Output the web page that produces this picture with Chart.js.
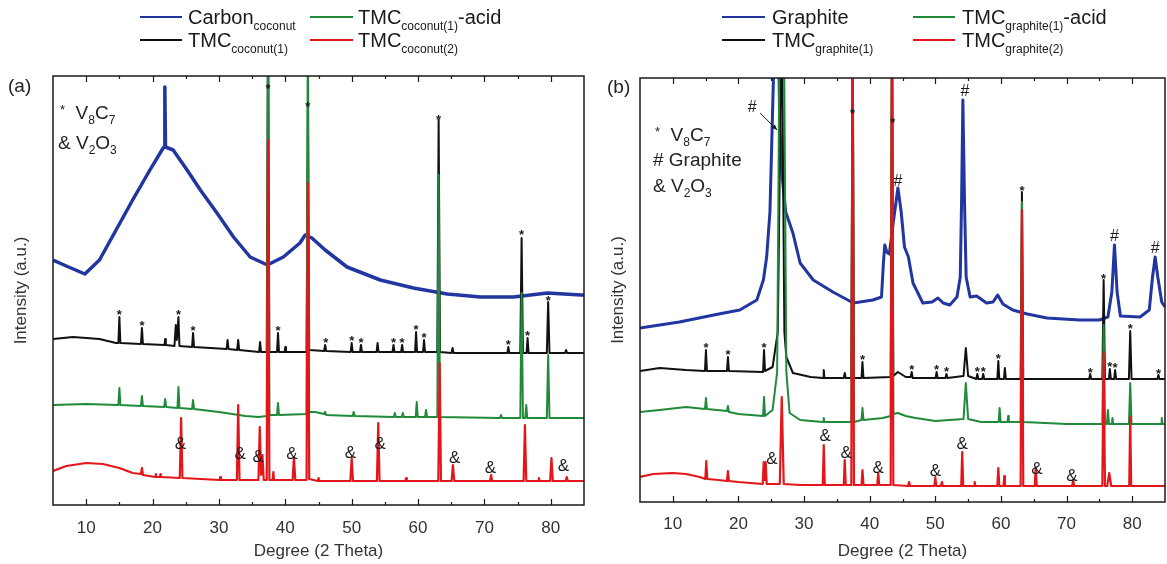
<!DOCTYPE html>
<html><head><meta charset="utf-8">
<script src="https://cdn.jsdelivr.net/npm/chart.js@4.4.0/dist/chart.umd.min.js"></script>
<style>
body{margin:0;background:#fff;width:1167px;height:564px;overflow:hidden;position:relative;font-family:"Liberation Sans",Arial,sans-serif;color:#1a1a1a}
canvas{position:absolute;top:0}
#ca{left:0}
#cb{left:590px}
.t{position:absolute;white-space:nowrap;font-size:20px;line-height:20px}
.t sub{font-size:12px;vertical-align:-6px;line-height:0}
.ln{position:absolute;height:0;border-top:2px solid}
.k{position:absolute;white-space:nowrap;font-size:19px;line-height:19px;color:#222}
.k sub{font-size:12px;vertical-align:-5px;line-height:0}
.st{font-size:13px;vertical-align:5px}
</style></head>
<body>
<canvas id="ca" width="590" height="564"></canvas>
<canvas id="cb" width="577" height="564"></canvas>

<!-- legends -->
<div class="ln" style="left:140px;top:16px;width:42px;border-color:#2236a0"></div>
<div class="t" style="left:188px;top:7px">Carbon<sub>coconut</sub></div>
<div class="ln" style="left:310px;top:16px;width:43px;border-color:#1f8a3a"></div>
<div class="t" style="left:358px;top:7px">TMC<sub>coconut(1)</sub>-acid</div>
<div class="ln" style="left:140px;top:39px;width:42px;border-color:#111"></div>
<div class="t" style="left:188px;top:30px">TMC<sub>coconut(1)</sub></div>
<div class="ln" style="left:310px;top:39px;width:43px;border-color:#e3161c"></div>
<div class="t" style="left:358px;top:30px">TMC<sub>coconut(2)</sub></div>

<div class="ln" style="left:722px;top:16px;width:43px;border-color:#2236a0"></div>
<div class="t" style="left:772px;top:7px">Graphite</div>
<div class="ln" style="left:913px;top:16px;width:42px;border-color:#1f8a3a"></div>
<div class="t" style="left:962px;top:7px">TMC<sub>graphite(1)</sub>-acid</div>
<div class="ln" style="left:722px;top:39px;width:43px;border-color:#111"></div>
<div class="t" style="left:772px;top:30px">TMC<sub>graphite(1)</sub></div>
<div class="ln" style="left:913px;top:39px;width:42px;border-color:#e3161c"></div>
<div class="t" style="left:962px;top:30px">TMC<sub>graphite(2)</sub></div>

<!-- panel labels and keys -->
<div class="k" style="left:8px;top:76px">(a)</div>
<div class="k" style="left:607px;top:77px">(b)</div>
<div class="k" style="left:60px;top:100px"><span class="st">*</span>&nbsp; V<sub>8</sub>C<sub>7</sub></div>
<div class="k" style="left:58px;top:133px">&amp; V<sub>2</sub>O<sub>3</sub></div>
<div class="k" style="left:655px;top:122px"><span class="st">*</span>&nbsp; V<sub>8</sub>C<sub>7</sub></div>
<div class="k" style="left:653px;top:150px"># Graphite</div>
<div class="k" style="left:653px;top:176px">&amp; V<sub>2</sub>O<sub>3</sub></div>

<script>
// ---------- axis ticks ----------
const X_TICKS = [10, 20, 30, 40, 50, 60, 70, 80];
const X_MINOR = [15, 25, 35, 45, 55, 65, 75];

// ---------- panel (a): coconut series, [2theta, intensity a.u.] ----------
const carbonCoconut = [[5,245],[7,239],[9.8,231],[12,245],[14.5,275],[17,305],[19.6,335],[21.6,357],[21.75,358],[21.85,418],[21.95,358],[23.1,355],[25.2,335],[27.2,315],[29.7,292],[32.2,268],[34.7,248],[37.3,240],[39.7,248],[42.2,262],[43,270],[44,267],[46,255],[49.3,238],[54.3,225],[59.3,217],[64.4,211],[69.4,208],[74.4,208],[79.5,212],[84.5,210],[85,210]];
const tmcCoconut1 = [[5,166],[8,168],[12,166],[14.5,162],[14.85,162],[15,188],[15.15,162],[18.25,161],[18.4,177],[18.55,161],[21.8,160],[21.9,166],[22.0,160],[23.3,159],[23.5,180],[23.65,165],[23.9,188],[24.05,159],[25.95,158],[26.1,172],[26.25,158],[31.15,156],[31.3,165],[31.45,156],[32.75,155],[32.9,165],[33.05,155],[36.05,153],[36.2,163],[36.35,153],[37.2,153],[37.4,500],[37.6,153],[38.75,153],[38.9,172],[39.05,153],[39.9,153],[40.0,158],[40.1,153],[43.2,153],[43.4,400],[43.6,155],[45.85,154],[46,160],[46.15,154],[49.85,153],[50.0,162],[50.15,153],[51.25,153],[51.4,160],[51.55,153],[53.75,153],[53.9,162],[54.05,153],[56.15,153],[56.3,160],[56.45,153],[57.45,153],[57.6,160],[57.75,153],[59.55,153],[59.7,173],[59.85,153],[60.75,153],[60.9,165],[61.05,153],[62.9,153],[63.1,385],[63.3,153],[65.05,152],[65.2,157],[65.35,152],[73.45,152],[73.6,158],[73.75,152],[75.4,152],[75.6,267],[75.8,152],[76.35,152],[76.5,167],[76.65,152],[79.4,152],[79.6,203],[79.8,152],[82.15,152],[82.3,155],[82.45,152],[85,152]];
const tmcCoconut1Acid = [[5,100],[10,101],[14.85,100],[15,117],[15.15,100],[18.25,99],[18.4,109],[18.55,99],[21.75,98],[21.9,106],[22.05,98],[23.75,97],[23.9,118],[24.05,97],[25.95,96],[26.1,105],[26.25,96],[30,93],[34,89],[36,88],[37.2,89],[37.4,500],[37.6,90],[38.75,90],[38.9,102],[39.05,90],[43.2,91],[43.4,500],[43.6,93],[44.5,93],[45.85,91],[46,93],[46.15,90],[50.15,89],[50.3,93],[50.45,89],[56.35,88],[56.5,92],[56.65,88],[57.55,88],[57.7,92],[57.85,88],[59.65,88],[59.8,103],[59.95,88],[61.05,88],[61.2,95],[61.35,88],[62.9,88],[63.1,330],[63.3,88],[72.35,87],[72.5,90],[72.65,87],[75.4,87],[75.6,212],[75.8,87],[76.15,87],[76.3,100],[76.45,87],[79.4,87],[79.6,150],[79.8,87],[85,87]];
const tmcCoconut2 = [[5,34],[7,39],[10,42],[12.5,41],[15,37],[17,32],[18.25,31],[18.4,37],[18.55,30],[20.4,28],[20.5,31],[20.6,28],[21.1,28],[21.2,31],[21.3,28],[24.1,27],[24.3,87],[24.5,27],[30.1,25],[30.2,28],[30.3,25],[32.7,25],[32.9,100],[33.1,25],[35.95,25],[36.15,78],[36.35,30],[36.55,50],[36.75,25],[37.2,25],[37.4,365],[37.6,25],[38.1,25],[38.2,33],[38.3,25],[41.1,25],[41.3,48],[41.5,25],[43.2,25],[43.4,322],[43.6,26],[44.9,24],[45,27],[45.1,24],[49.8,24],[50,47],[50.2,24],[53.8,24],[54,82],[54.2,24],[58.1,24],[58.2,27],[58.3,24],[63.05,24],[63.25,142],[63.45,24],[65.05,24],[65.25,40],[65.45,24],[70.85,24],[71,30],[71.15,24],[75.9,24],[76.1,80],[76.3,24],[78.1,24],[78.2,27],[78.3,24],[79.9,24],[80.1,47],[80.3,24],[82.25,24],[82.4,28],[82.55,24],[85,24]];

const starsA = [[15,193],[18.4,182],[23.9,193],[26.1,177],[38.9,177],[37.4,419],[43.4,401],[46.1,165],[50.0,167],[51.4,165],[56.3,165],[57.6,165],[59.7,178],[60.9,170],[63.1,388],[73.6,163],[75.6,273],[76.5,172],[79.6,207]];
const ampsA = [[24.2,62],[33.2,52],[35.9,49],[41.0,52],[49.8,53],[54.3,62],[65.5,48],[70.9,38],[81.9,40]];

// ---------- panel (b): graphite series ----------
const graphite = [[5,174],[8,177],[11,180],[14,184],[17,188],[20.2,192],[22.8,202],[23.8,222],[24.3,245],[24.8,290],[25.1,365],[25.4,440],[25.6,500],[26.0,500],[26.3,380],[26.6,330],[27.2,290],[28.3,269],[29.4,239],[31.4,222],[34.4,210],[37.5,199],[40.5,202],[41.8,205],[42.1,240],[42.3,257],[42.6,250],[43.0,248],[43.6,280],[44.3,314],[44.8,290],[45.3,255],[45.9,245],[46.6,219],[48.1,199],[49.5,200],[50.4,204],[51.2,199],[52.2,197],[53.3,205],[53.8,225],[54.0,300],[54.2,402],[54.45,300],[54.7,225],[55.3,205],[56.3,206],[57.8,199],[58.8,200],[59.5,207],[60.3,198],[61.8,192],[64,188],[67,184],[72,182],[75,182],[76.3,185],[76.9,210],[77.3,257],[77.7,210],[78.2,186],[81.2,185],[82.6,192],[83.1,225],[83.5,245],[83.9,225],[84.5,200],[85,195]];
const tmcGraphite1 = [[5,131],[8,134],[12,132],[14.9,131],[15.05,152],[15.2,131],[18.25,131],[18.4,145],[18.55,131],[23.75,130],[23.9,152],[24.05,131],[25.2,135],[26.0,170],[26.6,500],[27.0,170],[27.3,145],[28.3,129],[31,125],[32.9,124],[33,132],[33.1,124],[36.05,124],[36.2,129],[36.35,124],[37.2,124],[37.4,500],[37.6,124],[38.75,124],[38.9,140],[39.05,124],[43.2,125],[43.4,500],[43.6,126],[44.3,130],[45.5,125],[46.25,125],[46.4,130],[46.55,124],[50.05,124],[50.2,130],[50.35,124],[51.55,124],[51.7,128],[51.85,124],[54.3,126],[54.65,154],[55.0,126],[56.25,123],[56.4,128],[56.55,123],[57.15,123],[57.3,128],[57.45,123],[59.45,123],[59.6,141],[59.75,123],[60.45,123],[60.6,134],[60.75,123],[63.0,123],[63.2,310],[63.4,123],[73.45,123],[73.6,128],[73.75,123],[75.45,123],[75.65,222],[75.85,123],[76.45,123],[76.6,133],[76.75,123],[77.25,123],[77.4,132],[77.55,123],[79.5,123],[79.7,171],[79.9,123],[83.85,123],[84,127],[84.15,123],[85,123]];
const tmcGraphite1Acid = [[5,90],[8,92],[12,95],[14.9,93],[15.05,104],[15.2,93],[18.25,91],[18.4,96],[18.55,90],[20,88],[23.75,86],[23.9,105],[24.05,86],[25.2,92],[25.9,130],[26.3,500],[26.9,500],[27.3,130],[27.8,89],[29.4,82],[32.9,80],[33,84],[33.1,80],[36,80],[37.2,80],[37.4,500],[37.6,80],[38.75,82],[38.9,94],[39.05,82],[42,84],[43.2,86],[43.4,500],[43.6,88],[44.3,89],[45.5,86],[47,84],[50,81],[54.3,83],[54.65,119],[55.0,83],[57,80],[59.65,80],[59.8,94],[59.95,80],[61,80],[61.1,86],[61.2,80],[63.0,80],[63.2,300],[63.4,80],[70,78],[75.45,78],[75.65,177],[75.85,78],[76.15,78],[76.3,92],[76.45,78],[76.9,78],[77,84],[77.1,78],[79.5,78],[79.7,119],[79.9,78],[84.4,78],[84.5,84],[84.6,78],[85,78]];
const tmcGraphite2 = [[5,25],[7,28],[10,29],[12,28],[14.1,25],[14.95,23],[15.1,41],[15.25,23],[17,22],[18.25,21],[18.4,31],[18.55,21],[20,20],[23.7,18],[23.85,40],[24.0,22],[24.15,40],[24.3,18],[26.3,18],[26.6,105],[26.9,18],[29.4,17],[32.85,17],[33,57],[33.15,17],[36.05,17],[36.2,42],[36.35,17],[37.2,17],[37.4,500],[37.6,17],[38.75,17],[38.9,32],[39.05,17],[41.15,17],[41.3,29],[41.45,17],[43.2,17],[43.4,500],[43.6,17],[45.85,16],[46,20],[46.15,16],[49.85,16],[50,25],[50.15,16],[50.85,16],[51,20],[51.15,16],[53.95,16],[54.1,50],[54.25,16],[55.9,16],[56,20],[56.1,16],[59.45,16],[59.6,34],[59.75,16],[60.4,16],[60.5,26],[60.6,16],[63.0,16],[63.2,292],[63.4,16],[65.15,16],[65.3,34],[65.45,16],[70.85,16],[71,22],[71.15,16],[75.45,16],[75.65,150],[75.85,16],[76.2,16],[76.5,29],[76.8,16],[79.55,16],[79.7,85],[79.85,16],[85,16]];

const starsB = [[15.05,157],[18.4,150],[23.9,157],[38.9,145],[37.4,391],[43.5,382],[46.4,135],[50.2,135],[51.7,133],[56.4,133],[57.3,133],[59.6,146],[63.2,314],[73.6,132],[75.65,226],[76.6,138],[77.4,137],[79.7,176],[84,131]];
const ampsB = [[25.1,44],[33.2,67],[36.4,50],[41.3,35],[50.0,32],[54.1,59],[65.5,34],[70.8,27]];
const hashesB = [[22.1,396],[44.3,322],[54.5,412],[77.3,267],[83.5,255]];
const arrowB = [[23.3,389],[25.9,372]];

// ---------- colours ----------
const BLUE = '#2236a0', BLACK = '#111111', GREEN = '#1f8a3a', RED = '#e3161c';
const FONT = '"Liberation Sans", Arial, sans-serif';

function pts(a){ return a.map(([x,y]) => ({x, y})); }

function decor(marks, arrow){
  return {
    id: 'decor',
    afterDatasetsDraw(chart){
      const {ctx, chartArea: a, scales: {x, y}} = chart;
      ctx.save();
      ctx.strokeStyle = '#1a1a1a';
      ctx.lineWidth = 1.2;
      ctx.beginPath();
      X_TICKS.forEach(v => {
        const p = Math.round(x.getPixelForValue(v)) + 0.5;
        ctx.moveTo(p, a.bottom); ctx.lineTo(p, a.bottom - 6);
        ctx.moveTo(p, a.top); ctx.lineTo(p, a.top + 6);
      });
      X_MINOR.forEach(v => {
        const p = Math.round(x.getPixelForValue(v)) + 0.5;
        ctx.moveTo(p, a.bottom); ctx.lineTo(p, a.bottom - 3);
        ctx.moveTo(p, a.top); ctx.lineTo(p, a.top + 3);
      });
      ctx.stroke();
      ctx.lineWidth = 1.5;
      ctx.strokeRect(a.left, a.top, a.right - a.left, a.bottom - a.top);
      ctx.fillStyle = '#1a1a1a';
      ctx.textAlign = 'center';
      ctx.textBaseline = 'alphabetic';
      marks.forEach(m => {
        ctx.font = m.font;
        m.pts.forEach(([vx, vy]) => {
          ctx.fillText(m.sym, x.getPixelForValue(vx), y.getPixelForValue(vy) + m.dy);
        });
      });
      if (arrow){
        const x0 = x.getPixelForValue(arrow[0][0]), y0 = y.getPixelForValue(arrow[0][1]);
        const x1 = x.getPixelForValue(arrow[1][0]), y1 = y.getPixelForValue(arrow[1][1]);
        ctx.lineWidth = 1;
        ctx.beginPath(); ctx.moveTo(x0, y0); ctx.lineTo(x1, y1); ctx.stroke();
        const ang = Math.atan2(y1 - y0, x1 - x0);
        ctx.beginPath();
        ctx.moveTo(x1, y1);
        ctx.lineTo(x1 - 6*Math.cos(ang - 0.4), y1 - 6*Math.sin(ang - 0.4));
        ctx.lineTo(x1 - 6*Math.cos(ang + 0.4), y1 - 6*Math.sin(ang + 0.4));
        ctx.closePath(); ctx.fill();
      }
      ctx.restore();
    }
  };
}

function ds(data, color, w){
  return {data: pts(data), borderColor: color, borderWidth: w, pointRadius: 0, tension: 0,
          borderJoinStyle: 'round', fill: false};
}

function makeChart(id, sets, cfg){
  return new Chart(document.getElementById(id), {
    type: 'line',
    data: {datasets: sets},
    options: {
      responsive: false, animation: false, devicePixelRatio: 1,
      layout: {padding: {top: cfg.top, right: cfg.right, left: 0, bottom: 0}},
      plugins: {legend: {display: false}, tooltip: {enabled: false}},
      scales: {
        x: {
          type: 'linear', position: 'bottom', min: 5, max: 85,
          afterBuildTicks: s => { s.ticks = X_TICKS.map(v => ({value: v})); },
          afterFit: s => { s.height = cfg.xh; },
          grid: {display: false, drawTicks: false}, border: {display: false},
          ticks: {color: '#333', font: {family: FONT, size: 17}, padding: cfg.tp, maxRotation: 0, autoSkip: false},
          title: {display: true, text: 'Degree (2 Theta)', color: '#333', font: {family: FONT, size: 17}, padding: {top: 0, bottom: 2}}
        },
        y: {
          type: 'linear', position: 'left', min: 0, max: cfg.ymax,
          afterFit: s => { s.width = cfg.yw; },
          grid: {display: false, drawTicks: false}, border: {display: false},
          ticks: {display: false},
          title: {display: true, text: 'Intensity (a.u.)', color: '#333', font: {family: FONT, size: 17}, padding: {top: cfg.yp, bottom: 0}}
        }
      }
    },
    plugins: [decor(cfg.marks, cfg.arrow)]
  });
}

makeChart('ca', [
  ds(tmcCoconut2, RED, 2.2),
  ds(tmcCoconut1Acid, GREEN, 2),
  ds(tmcCoconut1, BLACK, 2),
  ds(carbonCoconut, BLUE, 3.5)
], {top: 76, right: 6, xh: 59, yw: 53, tp: 13, yp: 11, ymax: 429,
    marks: [
      {sym: '*', font: 'bold 13px ' + FONT, dy: 7, pts: starsA},
      {sym: '&', font: '17px ' + FONT, dy: 6, pts: ampsA}
    ]});

makeChart('cb', [
  ds(tmcGraphite2, RED, 2.2),
  ds(tmcGraphite1Acid, GREEN, 2),
  ds(tmcGraphite1, BLACK, 2),
  ds(graphite, BLUE, 3)
], {top: 78, right: 2, xh: 62, yw: 50, tp: 12, yp: 18, ymax: 424,
    marks: [
      {sym: '*', font: 'bold 13px ' + FONT, dy: 7, pts: starsB},
      {sym: '&', font: '17px ' + FONT, dy: 6, pts: ampsB},
      {sym: '#', font: '16px ' + FONT, dy: 6, pts: hashesB}
    ], arrow: arrowB});
</script>
</body></html>
